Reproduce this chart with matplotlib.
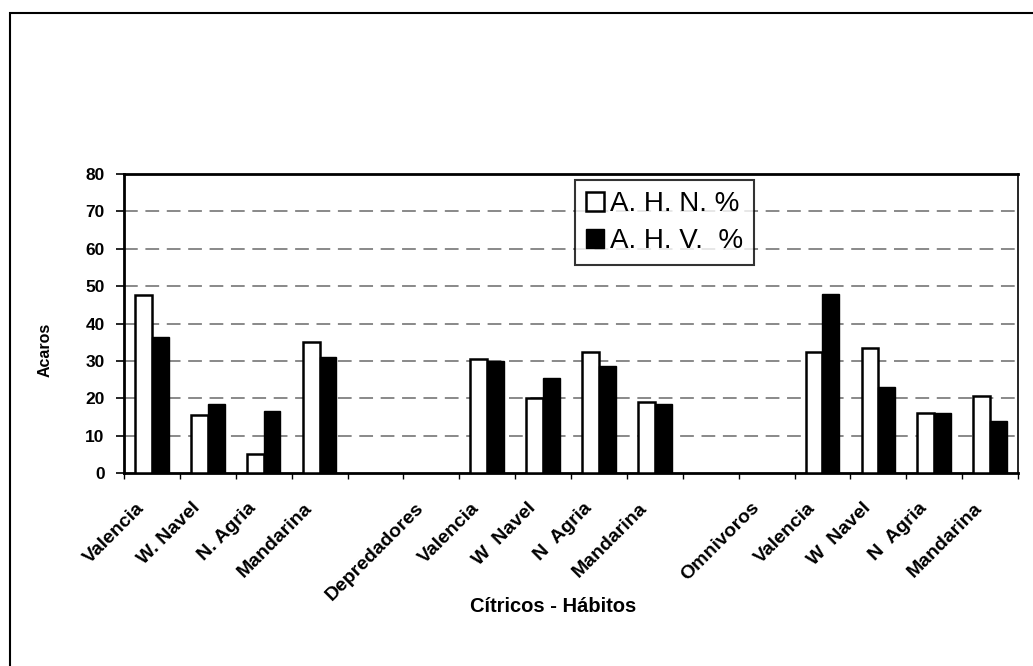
import numpy as np
import matplotlib
matplotlib.use("Agg")
import matplotlib.pyplot as plt
from matplotlib.patches import Rectangle
from matplotlib.transforms import ScaledTranslation

plt.rcParams["font.family"] = ["Liberation Sans", "DejaVu Sans"]

categories = ["Valencia", "W. Navel", "N. Agria", "Mandarina", "",
              "Depredadores", "Valencia", "W  Navel", "N  Agria", "Mandarina", "",
              "Omnivoros", "Valencia", "W  Navel", "N  Agria", "Mandarina"]
ahn = [47.5, 15.5, 5, 35, np.nan,
       np.nan, 30.5, 20, 32.5, 19, np.nan,
       np.nan, 32.5, 33.5, 16, 20.5]
ahv = [36.5, 18.5, 16.5, 31, np.nan,
       np.nan, 30, 25.5, 28.5, 18.5, np.nan,
       np.nan, 48, 23, 16, 14]
series_labels = ["A. H. N. %", "A. H. V.  %"]
y_ticks = [0, 10, 20, 30, 40, 50, 60, 70, 80]

W, H = 1033, 666
fig = plt.figure(figsize=(W / 100, H / 100), dpi=100)
ax = fig.add_axes([124 / W, 1 - 473 / H, (1018 - 124) / W, (473 - 174) / H])

x = np.arange(len(categories))
bw = 0.30
ax.bar(x - bw / 2, ahn, bw, facecolor="white", edgecolor="black",
       linewidth=1.8, label=series_labels[0], zorder=3)
ax.bar(x + bw / 2, ahv, bw, facecolor="black", edgecolor="black",
       linewidth=1.0, label=series_labels[1], zorder=3)

ax.set_xlim(-0.5, len(categories) - 0.5)
ax.set_ylim(0, 80)
ax.set_yticks(y_ticks)
ax.set_yticklabels([str(v) for v in y_ticks], fontsize=12.5, fontweight="bold")
for v in y_ticks[1:-1]:
    ax.axhline(v, color="#6a6a6a", linewidth=1.1, linestyle=(0, (9, 5)), zorder=1)

# category labels sit at centres, tick marks at category boundaries
ax.set_xticks(x)
ax.set_xticklabels(categories, rotation=45, ha="right", rotation_mode="anchor",
                   fontsize=14, fontweight="bold")
ax.tick_params(axis="x", length=0, pad=19)
shift = ScaledTranslation(-0.16, 0, fig.dpi_scale_trans)
for lbl in ax.get_xticklabels():
    lbl.set_transform(lbl.get_transform() + shift)
ax.set_xticks(np.arange(-0.5, len(categories)), minor=True)
ax.tick_params(axis="x", which="minor", length=4, width=1, direction="out")
ax.tick_params(axis="y", length=6, width=1.2, direction="out", pad=8)

for side in ["left", "top", "bottom"]:
    ax.spines[side].set_linewidth(2.0)
ax.spines["right"].set_linewidth(1.2)

fig.text(45 / W, 1 - 350 / H, "Acaros", rotation=90, ha="center", va="center",
         fontsize=11.5, fontweight="bold")
fig.text(553 / W, 1 - 606 / H, "Cítricos - Hábitos", ha="center", va="center",
         fontsize=14.5, fontweight="bold")

leg = ax.legend(loc="upper left", bbox_to_anchor=(0.5045, 0.98), borderaxespad=0,
                fontsize=20, frameon=True, fancybox=False, edgecolor="black",
                handlelength=0.65, handleheight=0.65, handletextpad=0.2,
                labelspacing=0.4, borderpad=0.4)
leg.get_frame().set_linewidth(1.5)
leg.set_zorder(5)

# outer frame of the page
fig.add_artist(Rectangle((10 / W, -0.1), 1.2, 1 - 13 / H + 0.1,
                         transform=fig.transFigure, fill=False,
                         edgecolor="black", linewidth=1.5))

fig.savefig("out.png", dpi=100, facecolor="white")
